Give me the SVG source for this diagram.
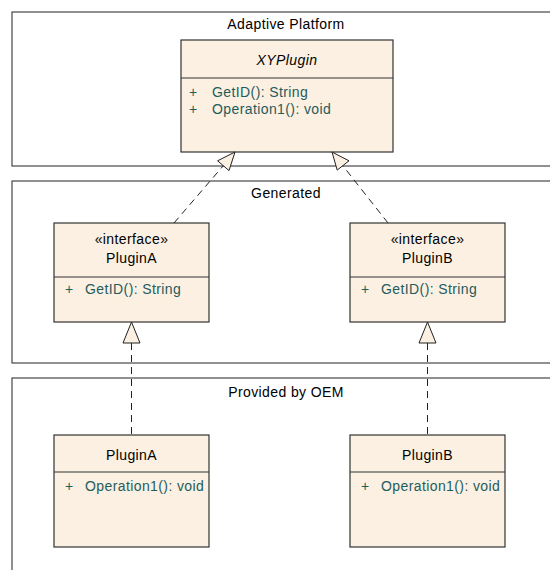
<svg xmlns="http://www.w3.org/2000/svg" width="550" height="570" viewBox="0 0 550 570">
<style>
.pkg{fill:#fff;stroke:#222;stroke-width:1}
.cls{fill:#FBF0E2;stroke:#333;stroke-width:1.2}
.div{stroke:#333;stroke-width:1.2}
text{font-family:"Liberation Sans",Arial,sans-serif;font-size:14px;letter-spacing:0.4px}
.t{fill:#000;text-anchor:middle}
.m{fill:#1F5C5C}
.dash{fill:none;stroke:#222;stroke-width:1;stroke-dasharray:7,5}
.head{fill:#FBF0E2;stroke:#222;stroke-width:1}
</style>
<rect width="550" height="570" fill="#fff"/>
<g id="pkg-adaptive">
<rect class="pkg" x="12" y="12" width="560" height="154"/>
<text class="t" x="286" y="29">Adaptive Platform</text>
</g>
<g id="pkg-generated">
<rect class="pkg" x="12" y="181" width="560" height="182"/>
<text class="t" x="286" y="198">Generated</text>
</g>
<g id="pkg-oem">
<rect class="pkg" x="12" y="378" width="560" height="220"/>
<text class="t" x="286" y="397">Provided by OEM</text>
</g>
<g id="xyplugin">
<rect class="cls" x="181" y="40" width="212" height="112"/>
<line class="div" x1="181" y1="78" x2="393" y2="78"/>
<text class="t" x="287" y="65" font-style="italic">XYPlugin</text>
<text class="m" x="189" y="97">+</text><text class="m" x="212" y="97">GetID(): String</text>
<text class="m" x="189" y="114">+</text><text class="m" x="212" y="114">Operation1(): void</text>
</g>
<g id="iface-pluginA">
<rect class="cls" x="54" y="223" width="155" height="99"/>
<line class="div" x1="54" y1="277" x2="209" y2="277"/>
<text class="t" x="131.5" y="244">«interface»</text>
<text class="t" x="131.5" y="263">PluginA</text>
<text class="m" x="65" y="294">+</text><text class="m" x="85" y="294">GetID(): String</text>
</g>
<g id="iface-pluginB">
<rect class="cls" x="350" y="223" width="155" height="99"/>
<line class="div" x1="350" y1="277" x2="505" y2="277"/>
<text class="t" x="427.5" y="244">«interface»</text>
<text class="t" x="427.5" y="263">PluginB</text>
<text class="m" x="361" y="294">+</text><text class="m" x="381" y="294">GetID(): String</text>
</g>
<g id="oem-pluginA">
<rect class="cls" x="54" y="435" width="155" height="112"/>
<line class="div" x1="54" y1="472" x2="209" y2="472"/>
<text class="t" x="131.5" y="460">PluginA</text>
<text class="m" x="65" y="491">+</text><text class="m" x="85" y="491">Operation1(): void</text>
</g>
<g id="oem-pluginB">
<rect class="cls" x="350" y="435" width="155" height="112"/>
<line class="div" x1="350" y1="472" x2="505" y2="472"/>
<text class="t" x="427.5" y="460">PluginB</text>
<text class="m" x="361" y="491">+</text><text class="m" x="381" y="491">Operation1(): void</text>
</g>
<g id="connectors">
<line class="dash" x1="174" y1="223" x2="223.3" y2="165.7"/>
<polygon class="head" points="235,152 229,170.6 217.6,160.8"/>
<line class="dash" x1="388" y1="223" x2="343.1" y2="166.1"/>
<polygon class="head" points="332,152 349,160.8 337.2,170.1"/>
<line class="dash" x1="131.5" y1="343" x2="131.5" y2="435"/>
<polygon class="head" points="131.5,322 140,343 123,343"/>
<line class="dash" x1="427.5" y1="343" x2="427.5" y2="435"/>
<polygon class="head" points="427.5,322 436,343 419,343"/>
</g>
</svg>
